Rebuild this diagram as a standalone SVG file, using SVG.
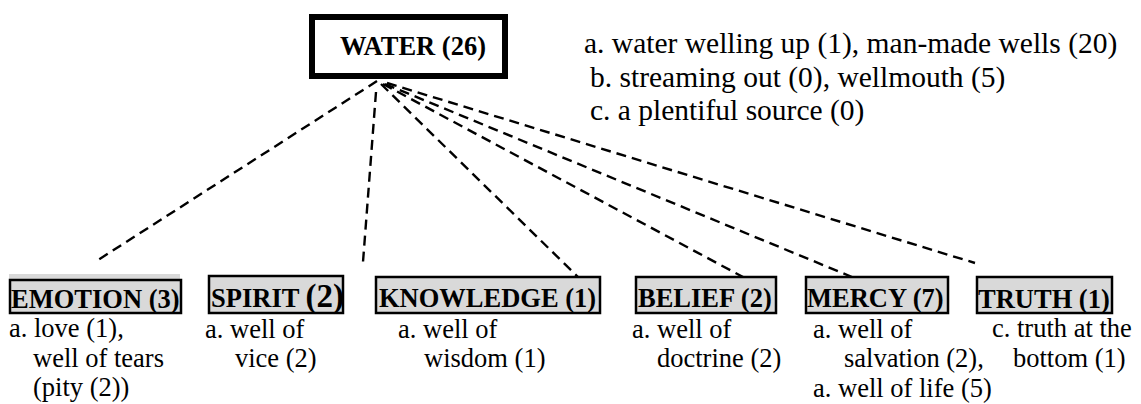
<svg xmlns="http://www.w3.org/2000/svg" width="1141" height="404" viewBox="0 0 1141 404">
  <style>
    .lbl { font-family: 'Liberation Serif', 'Times New Roman', serif; font-weight: bold; font-size: 26.5px; fill: #000; }
    .txt { font-family: 'Liberation Serif', 'Times New Roman', serif; font-size: 26.5px; fill: #000; }
    .note { font-family: 'Liberation Serif', 'Times New Roman', serif; font-size: 29.5px; fill: #000; }
    .box { fill: #d9d9d9; stroke: #000; stroke-width: 2.5; }
    .link { fill: none; stroke: #000; stroke-width: 2.4; stroke-dasharray: 10 6; }
  </style>
  <rect width="1141" height="404" fill="#fff"/>

  <!-- dashed links from the root to each category -->
  <g id="connectors">
    <line class="link" x1="377" y1="81" x2="95" y2="262"/>
    <line class="link" x1="376" y1="92" x2="363" y2="262"/>
    <line class="link" x1="381" y1="84" x2="578" y2="277"/>
    <line class="link" x1="383" y1="84" x2="743" y2="277"/>
    <line class="link" x1="385" y1="84" x2="852" y2="277"/>
    <line class="link" x1="387" y1="83" x2="975" y2="263"/>
  </g>

  <g id="water">
    <rect x="312" y="17" width="193" height="59" fill="#fff" stroke="#000" stroke-width="6"/>
    <text class="lbl" x="340" y="55">WATER (26)</text>
  </g>

  <g id="water-notes">
    <text class="note" x="584" y="53">a. water welling up (1), man-made wells (20)</text>
    <text class="note" x="590" y="87">b. streaming out (0), wellmouth (5)</text>
    <text class="note" x="590" y="120">c. a plentiful source (0)</text>
  </g>

  <g id="emotion">
    <rect x="9" y="274" width="171" height="6" fill="#d9d9d9"/>
    <rect class="box" x="10" y="280" width="171" height="33"/>
    <text class="lbl" x="11" y="308">EMOTION (3)</text>
    <text class="txt" x="9" y="337">a. love (1),</text>
    <text class="txt" x="33" y="367">well of tears</text>
    <text class="txt" x="33" y="396">(pity (2))</text>
  </g>

  <g id="spirit">
    <rect class="box" x="209" y="276" width="134" height="37"/>
    <text class="lbl" x="211" y="307">SPIRIT <tspan font-size="33">(2)</tspan></text>
    <text class="txt" x="205" y="338">a. well of</text>
    <text class="txt" x="235" y="367">vice (2)</text>
  </g>

  <g id="knowledge">
    <rect class="box" x="376" y="277" width="224" height="36"/>
    <text class="lbl" x="379" y="307">KNOWLEDGE (1)</text>
    <text class="txt" x="398" y="338">a. well of</text>
    <text class="txt" x="424" y="367">wisdom (1)</text>
  </g>

  <g id="belief">
    <rect class="box" x="636" y="277" width="140" height="36"/>
    <text class="lbl" x="638" y="307">BELIEF (2)</text>
    <text class="txt" x="632" y="338">a. well of</text>
    <text class="txt" x="657" y="367">doctrine (2)</text>
  </g>

  <g id="mercy">
    <rect class="box" x="806" y="277" width="142" height="36"/>
    <text class="lbl" x="807" y="307">MERCY (7)</text>
    <text class="txt" x="813" y="338">a. well of</text>
    <text class="txt" x="844" y="367">salvation (2),</text>
    <text class="txt" x="813" y="397">a. well of life (5)</text>
  </g>

  <g id="truth">
    <rect class="box" x="977" y="277" width="135" height="36"/>
    <text class="lbl" x="978" y="308">TRUTH (1)</text>
    <text class="txt" x="992" y="337">c. truth at the</text>
    <text class="txt" x="1013" y="367">bottom (1)</text>
  </g>
</svg>
